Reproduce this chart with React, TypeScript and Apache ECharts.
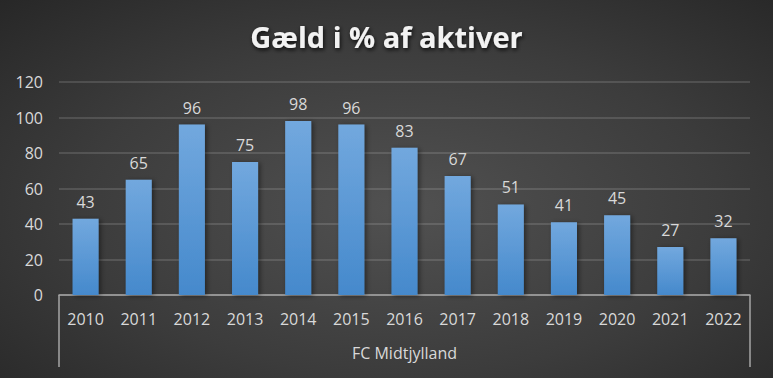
import React, { useEffect, useRef } from "react";
import * as echarts from "echarts";

const years = ["2010","2011","2012","2013","2014","2015","2016","2017","2018","2019","2020","2021","2022"];
const values = [43, 65, 96, 75, 98, 96, 83, 67, 51, 41, 45, 27, 32];
const groupLabel = ["FC Midtjylland"];
const titleText = "Gæld i % af aktiver";

export default function App() {
  const ref = useRef<HTMLDivElement>(null);
  useEffect(() => {
    document.body.style.margin = "0";
    const chart = echarts.init(ref.current!, null, { renderer: "svg" });
    const font = "Open Sans";
    chart.setOption({
      animation: false,
      title: {
        text: titleText,
        left: "center",
        top: 17,
        textStyle: {
          color: "#f2f2f2",
          fontSize: 29,
          fontWeight: "bold",
          fontFamily: font,
          textShadowColor: "rgba(0,0,0,0.8)",
          textShadowBlur: 4,
          textShadowOffsetX: 1,
          textShadowOffsetY: 2,
        },
      },
      grid: { left: 59, right: 23, top: 82, bottom: 83 },
      xAxis: [
        {
          type: "category",
          data: years,
          position: "bottom",
          axisLine: { show: true, lineStyle: { color: "#a6a6a6", width: 1.5 } },
          axisTick: { show: false },
          axisLabel: { color: "#d9d9d9", fontSize: 16, fontFamily: font, margin: 16 },
        },
        {
          type: "category",
          data: groupLabel,
          position: "bottom",
          axisLine: { show: false },
          axisTick: { show: true, length: 72, lineStyle: { color: "#a6a6a6", width: 1.5 } },
          axisLabel: { color: "#d9d9d9", fontSize: 16, fontFamily: font, margin: 50 },
          splitLine: { show: false },
        },
      ],
      yAxis: {
        type: "value",
        min: 0,
        max: 120,
        interval: 20,
        axisLine: { show: false },
        axisTick: { show: false },
        axisLabel: { color: "#d9d9d9", fontSize: 16, fontFamily: font, margin: 16 },
        splitLine: { lineStyle: { color: "rgba(255,255,255,0.13)", width: 2 } },
      },
      series: [
        {
          type: "bar",
          data: values,
          xAxisIndex: 0,
          barWidth: "49%",
          itemStyle: {
            color: new echarts.graphic.LinearGradient(0, 0, 0, 1, [
              { offset: 0, color: "#72a8de" },
              { offset: 1, color: "#4589cc" },
            ]),
            shadowColor: "rgba(0,0,0,0.45)",
            shadowBlur: 5,
            shadowOffsetX: 2,
            shadowOffsetY: 1,
          },
          label: {
            show: true,
            position: "top",
            distance: 9,
            color: "#d9d9d9",
            fontSize: 16,
            fontFamily: font,
          },
        },
      ],
    });
    return () => chart.dispose();
  }, []);
  return (
    <div
      ref={ref}
      style={{
        width: 773,
        height: 378,
        background: "radial-gradient(ellipse 75% 80% at 52% 55%, #515151 0%, #3c3c3c 55%, #262626 100%)",
      }}
    />
  );
}
